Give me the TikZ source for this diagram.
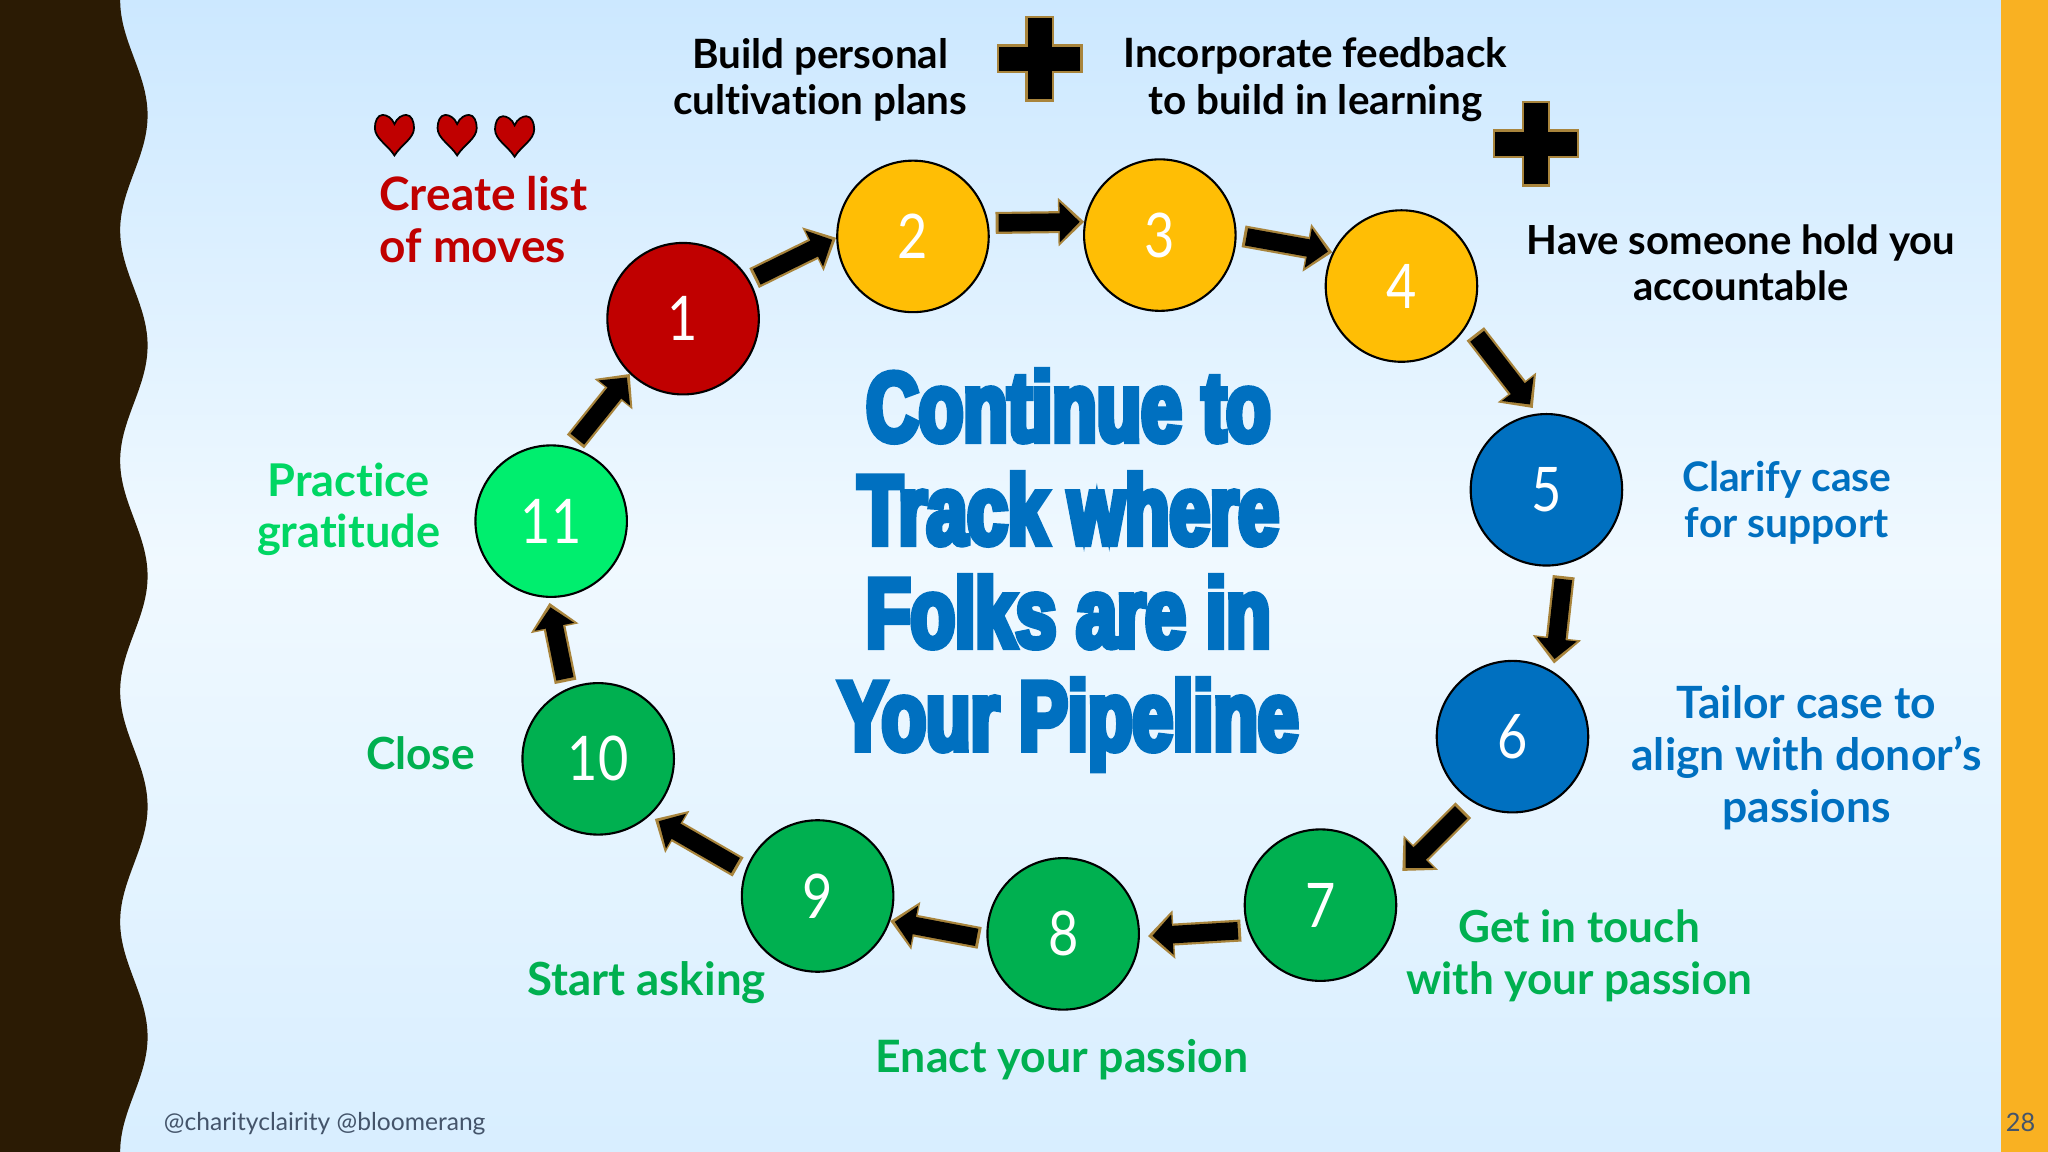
\documentclass[tikz,border=0pt]{standalone}
\usepackage{fontspec}
\setmainfont[Ligatures=NoCommon]{Lato}
\newfontfamily\titlefont[UprightFont={* Bold},FakeStretch=0.74,FakeBold=6]{Liberation Sans}
\newfontfamily\digitfont[FakeStretch=0.85]{Lato}
\usetikzlibrary{arrows.meta}
\definecolor{bark}{HTML}{2B1B04}
\definecolor{rim}{HTML}{A8843C}
\definecolor{band}{HTML}{F9B122}
\definecolor{skytop}{HTML}{CCE8FF}
\definecolor{skymid}{HTML}{F0F9FF}
\definecolor{skylow}{HTML}{D8EEFF}
\definecolor{cred}{HTML}{C00000}
\definecolor{cyellow}{HTML}{FFBE05}
\definecolor{cblue}{HTML}{0070C0}
\definecolor{cgreen}{HTML}{00B050}
\definecolor{cmint}{HTML}{00EE6E}
\definecolor{cslate}{HTML}{44546A}
\tikzstyle{stepcircle}=[circle,draw=black,line width=0.6pt,minimum size=1.515cm,inner sep=0pt,text=white,font=\digitfont\fontsize{17.5}{20}\selectfont]
\tikzstyle{arrowedge}=[draw=rim,line width=0.22cm,-{Triangle[length=0.26cm,width=0.47cm]}]
\tikzstyle{arrowcore}=[draw=black,line width=0.175cm,-{Triangle[length=0.2cm,width=0.39cm]}]
\tikzstyle{caption}=[align=center,inner sep=0pt]
\newcommand{\capsize}[2]{\fontsize{#1}{#2}\selectfont\bfseries}
\newcommand{\drawblockarrow}[4]{
  \draw[arrowedge,shorten <=#3 cm,shorten >=#4 cm] (#1) -- (#2);
  \draw[arrowcore,shorten <=#3 cm+0.03cm,shorten >=#4 cm+0.045cm] (#1) -- (#2);
}
\newcommand{\drawplus}[2]{
  \draw[draw=rim,fill=black,line width=0.7pt,shift={(#1,#2)}]
    (-10,-32) -- (10,-32) -- (10,-10) -- (32,-10) -- (32,10) -- (10,10)
    -- (10,32) -- (-10,32) -- (-10,10) -- (-32,10) -- (-32,-10) -- (-10,-10) -- cycle;
}
\newcommand{\drawheart}[2]{
  \draw[draw=black,fill=cred,line width=0.5pt,shift={(#1,#2)}]
    (0,-8) .. controls (-2,-13) and (-6,-15) .. (-9,-15)
    .. controls (-13,-15) and (-15,-10) .. (-15,-5)
    .. controls (-15,3) and (-5,8) .. (0,16)
    .. controls (5,8) and (15,3) .. (15,-5)
    .. controls (15,-10) and (13,-15) .. (9,-15)
    .. controls (6,-15) and (2,-13) .. (0,-8) -- cycle;
}
\begin{document}
\begin{tikzpicture}[x=0.013061cm,y=-0.013061cm]
  \useasboundingbox (0,0) rectangle (1568,882);
  % backdrop
  \shade[top color=skytop,bottom color=skymid] (0,0) rectangle (1568,431);
  \shade[top color=skymid,bottom color=skylow] (0,430) rectangle (1568,882);
  \fill[band] (1532,0) rectangle (1568,882);
  \fill[bark] (0,0) -- plot[domain=0:882,samples=240] ({102.5-10.5*cos(\x/176.4*360)},\x) -- (0,882) -- cycle;
  % steps
  \foreach \i/\x/\y/\c in {1/523/244/cred,2/699/181/cyellow,3/888/180/cyellow,4/1073/219/cyellow,
    5/1184/375/cblue,6/1158/564/cblue,7/1011/693/cgreen,8/814/715/cgreen,9/626/686/cgreen,
    10/458/581/cgreen,11/422/399/cmint} {
    \node[stepcircle,fill=\c] (n\i) at (\x,\y) {\raisebox{-0.5pt}{\i}};
  }
  % arrows
  \drawblockarrow{n1.30}{n2.181}{0.05}{0}
  \drawblockarrow{n2.10}{n3.170}{0.07}{0}
  \drawblockarrow{n3.0}{n4.154}{0.07}{0}
  \drawblockarrow{n4.-30}{n5.97}{0.12}{0.07}
  \drawblockarrow{n5.-76}{n6.58}{0.12}{0.08}
  \drawblockarrow{n6.-122}{n7.19}{0.12}{0.13}
  \drawblockarrow{n7.199}{n8.-2}{0.07}{0.08}
  \drawblockarrow{n8.184}{n9.-19}{0.07}{0}
  \drawblockarrow{n9.161}{n10.-48}{0.08}{0.06}
  \drawblockarrow{n10.114}{n11.-92}{0.07}{0.05}
  \drawblockarrow{n11.75}{n1.-134}{0.07}{0}
  % decorations
  \drawplus{796}{45}
  \drawplus{1176}{110}
  \drawheart{302}{103}
  \drawheart{350}{103}
  \drawheart{394}{104}
  % labels
  \node[caption,font=\capsize{11.5}{13.2}] (personal) at (628,61) {Build personal\\cultivation plans};
  \node[caption,font=\capsize{11.5}{13.2}] (feedback) at (1007,61) {Incorporate feedback\\to build in learning};
  \node[caption,font=\capsize{11.4}{13.2}] (accountable) at (1333,201) {Have someone hold you\\accountable};
  \node[caption,font=\capsize{13.1}{14.8},text=cred,align=left,anchor=west] (moves) at (290,168) {Create list\\of moves};
  \node[caption,font=\capsize{12.85}{14.7},text=cmint!90!black] (gratitude) at (267,390) {Practice\\gratitude};
  \node[caption,font=\capsize{12.6}{14.8},text=cgreen] (close) at (322,577) {Close};
  \node[caption,font=\capsize{13}{14.8},text=cgreen] (asking) at (495,752) {Start asking};
  \node[caption,font=\capsize{12.7}{14.8},text=cgreen] (enact) at (813,811) {Enact your passion};
  \node[caption,font=\capsize{12.55}{14.8},text=cgreen] (touch) at (1209,732) {Get in touch\\with your passion};
  \node[caption,font=\capsize{11.6}{13.2},text=cblue] (clarify) at (1368,385) {Clarify case\\for support};
  \node[caption,font=\capsize{12.65}{14.8},text=cblue] (tailor) at (1383,580) {Tailor case to\\align with donor’s\\passions};
  \node[align=center,text=cblue,font=\titlefont\fontsize{28}{29.3}\selectfont] (title) at (818,436.5)
    {Continue to\\Track where\\Folks are in\\Your Pipeline};
  \node[anchor=west,inner sep=0pt,text=cslate,font=\fontsize{7}{9}\selectfont] (handles) at (125,860) {@charityclairity @bloomerang};
  \node[text=cslate,font=\fontsize{7.2}{9}\selectfont] (page) at (1547,859) {28};
\end{tikzpicture}
\end{document}
